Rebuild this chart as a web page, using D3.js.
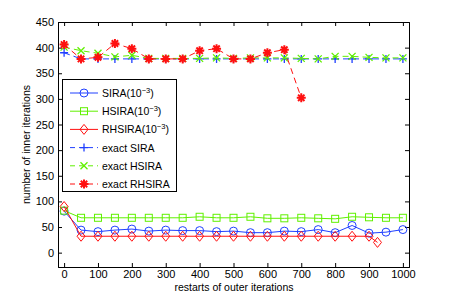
<!DOCTYPE html>
<html lang="en">
<head>
<meta charset="utf-8">
<title>inner iterations</title>
<script src="https://cdn.jsdelivr.net/npm/d3@7"></script>
<style>
  body { margin: 0; background: #fff; }
  text { font-family: "Liberation Sans", Arial, sans-serif; }
</style>
</head>
<body>
<script>
// restarts (x values)
var restarts = [0, 50, 100, 150, 200, 250, 300, 350, 400, 450, 500,
                550, 600, 650, 700, 750, 800, 850, 900, 950, 1000];

var sira  = [81, 44, 41, 44, 46, 42, 44, 43, 43, 41, 42, 39, 39, 42, 41, 45, 39, 53, 38, 40, 45];
var hsira = [82, 68, 68, 68, 68, 68, 68, 68, 70, 68, 68, 70, 67, 67, 68, 67, 66, 70, 69, 68, 68];
var rhsiraX = [0, 50, 100, 150, 200, 250, 300, 350, 400, 450, 500, 550, 600, 650, 700, 750, 800, 850, 900, 925];
var rhsira  = [90, 32, 32, 32, 32, 32, 32, 32, 32, 32, 32, 32, 32, 32, 32, 32, 32, 32, 32, 20];

var exactSira  = [390, 378, 378, 378, 378, 378, 378, 378, 378, 378, 378,
                  378, 378, 378, 378, 378, 378, 378, 378, 378, 378];
var exactHsira = [401, 394, 389, 382, 385, 379, 379, 379, 379, 380, 379,
                  380, 380, 380, 379, 378, 383, 383, 381, 380, 380];
var exactRhX = [0, 50, 100, 150, 200, 250, 300, 350, 400, 450, 500, 550, 600, 650, 700];
var exactRh  = [406, 378, 381, 408, 398, 378, 378, 378, 394, 398, 378, 378, 390, 396, 302];

var xTicks = [0, 100, 200, 300, 400, 500, 600, 700, 800, 900, 1000];
var yTicks = [0, 50, 100, 150, 200, 250, 300, 350, 400, 450];

var blue = "#2040ff", green = "#60f000", red = "#ff1010";

var W = 452, H = 300;
var pL = 58, pR = 409, pT = 22, pB = 267;

var svg = d3.select("body").append("svg").attr("width", W).attr("height", H);

var x = d3.scaleLinear().domain([-18, 1018]).range([pL, pR]);
var y = d3.scaleLinear().domain([-28, 450]).range([pB, pT]);

// axes (box with ticks on all sides)
var tickLen = 4;
svg.append("g").attr("transform", "translate(0," + pB + ")")
   .call(d3.axisBottom(x).tickValues(xTicks).tickSize(-tickLen).tickPadding(3).tickFormat(d3.format("d")));
svg.append("g").attr("transform", "translate(0," + pT + ")")
   .call(d3.axisTop(x).tickValues(xTicks).tickSize(-tickLen).tickFormat(""));
svg.append("g").attr("transform", "translate(" + pL + ",0)")
   .call(d3.axisLeft(y).tickValues(yTicks).tickSize(-tickLen).tickPadding(4).tickFormat(d3.format("d")));
svg.append("g").attr("transform", "translate(" + pR + ",0)")
   .call(d3.axisRight(y).tickValues(yTicks).tickSize(-tickLen).tickFormat(""));

svg.selectAll(".domain").attr("stroke", "#000").attr("stroke-width", 1);
svg.selectAll(".tick line").attr("stroke", "#000");
svg.selectAll(".tick text").attr("font-size", "11px").attr("fill", "#000")
   .attr("font-family", "Liberation Sans, Arial, sans-serif");

// axis labels
svg.append("text").attr("x", 234).attr("y", 291).attr("text-anchor", "middle")
   .attr("font-size", "10.5px").text("restarts of outer iterations");
svg.append("text").attr("transform", "translate(30," + ((pT + pB) / 2) + ")rotate(-90)")
   .attr("text-anchor", "middle").attr("font-size", "10.5px").text("number of inner iterations");

// marker drawers
function marker(g, type, color, cx, cy) {
  if (type === "circle") {
    g.append("circle").attr("cx", cx).attr("cy", cy).attr("r", 4)
     .attr("fill", "none").attr("stroke", color).attr("stroke-width", 1);
  } else if (type === "square") {
    g.append("rect").attr("x", cx - 3.5).attr("y", cy - 3.5).attr("width", 7).attr("height", 7)
     .attr("fill", "none").attr("stroke", color).attr("stroke-width", 1);
  } else if (type === "diamond") {
    g.append("path").attr("d", "M" + cx + "," + (cy - 5) + "L" + (cx + 4) + "," + cy + "L" + cx + "," + (cy + 5) + "L" + (cx - 4) + "," + cy + "Z")
     .attr("fill", "none").attr("stroke", color).attr("stroke-width", 1);
  } else if (type === "plus") {
    g.append("path").attr("d", "M" + (cx - 4) + "," + cy + "H" + (cx + 4) + "M" + cx + "," + (cy - 4) + "V" + (cy + 4))
     .attr("stroke", color).attr("stroke-width", 1.3);
  } else if (type === "cross") {
    g.append("path").attr("d", "M" + (cx - 3.5) + "," + (cy - 3.5) + "L" + (cx + 3.5) + "," + (cy + 3.5) +
      "M" + (cx - 3.5) + "," + (cy + 3.5) + "L" + (cx + 3.5) + "," + (cy - 3.5))
     .attr("stroke", color).attr("stroke-width", 1.3);
  } else if (type === "star") {
    g.append("path").attr("d", "M" + (cx - 4.5) + "," + cy + "H" + (cx + 4.5) + "M" + cx + "," + (cy - 4.5) + "V" + (cy + 4.5) +
      "M" + (cx - 3.2) + "," + (cy - 3.2) + "L" + (cx + 3.2) + "," + (cy + 3.2) +
      "M" + (cx - 3.2) + "," + (cy + 3.2) + "L" + (cx + 3.2) + "," + (cy - 3.2))
     .attr("stroke", color).attr("stroke-width", 2);
  }
}

var series = [
  {name: "SIRA", sup: true, xs: restarts, ys: sira, color: blue, m: "circle", dash: null},
  {name: "HSIRA", sup: true, xs: restarts, ys: hsira, color: green, m: "square", dash: null},
  {name: "RHSIRA", sup: true, xs: rhsiraX, ys: rhsira, color: red, m: "diamond", dash: null},
  {name: "exact SIRA", sup: false, xs: restarts, ys: exactSira, color: blue, m: "plus", dash: "6,4"},
  {name: "exact HSIRA", sup: false, xs: restarts, ys: exactHsira, color: green, m: "cross", dash: "6,4"},
  {name: "exact RHSIRA", sup: false, xs: exactRhX, ys: exactRh, color: red, m: "star", dash: "6,4"}
];

var line = d3.line().x(function(d) { return x(d[0]); }).y(function(d) { return y(d[1]); });

series.forEach(function(s) {
  var pts = s.xs.map(function(v, i) { return [v, s.ys[i]]; });
  var g = svg.append("g");
  g.append("path").datum(pts).attr("d", line)
   .attr("fill", "none").attr("stroke", s.color).attr("stroke-width", 1)
   .attr("stroke-dasharray", s.dash);
  pts.forEach(function(p) { marker(g, s.m, s.color, x(p[0]), y(p[1])); });
});

// legend
var lg = svg.append("g");
lg.append("rect").attr("x", 62.5).attr("y", 79.5).attr("width", 114).attr("height", 112)
  .attr("fill", "#fff").attr("stroke", "#000").attr("stroke-width", 1);
series.forEach(function(s, i) {
  var ly = 93 + i * 18.2;
  lg.append("path").attr("d", "M70," + ly + "H98")
    .attr("stroke", s.color).attr("stroke-width", 1).attr("stroke-dasharray", s.dash ? "5,4" : null);
  marker(lg, s.m, s.color, 84, ly);
  var t = lg.append("text").attr("x", 102).attr("y", ly + 4).attr("font-size", "10.5px").attr("fill", "#000");
  if (s.sup) {
    t.append("tspan").text(s.name + "(10");
    t.append("tspan").attr("dy", -4).attr("font-size", "7.5px").text("\u22123");
    t.append("tspan").attr("dy", 4).text(")");
  } else {
    t.text(s.name);
  }
});
</script>
</body>
</html>
